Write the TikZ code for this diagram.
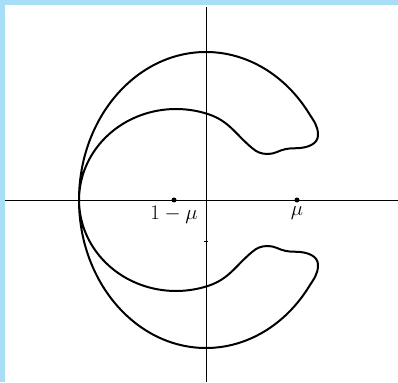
\documentclass[tikz,border=0pt]{standalone}
\usepackage{amsmath,amssymb}
\usepackage{xcolor}
\usetikzlibrary{positioning}
\definecolor{frameblue}{RGB}{168,221,248}

\begin{document}
\begin{tikzpicture}[x=1pt, y=1pt, every node/.style={font=\fontsize{20}{24}\selectfont},
  axis/.style={line width=0.7pt},
  curve/.style={line width=2pt, line join=round},
  dot/.style={circle, fill, inner sep=0pt, minimum size=5pt}]
% frame and margins
\fill[frameblue] (-206,-182) rectangle (192,200);
\fill[white] (-201,-182) rectangle (192,195);
\useasboundingbox (-206,-182) rectangle (192,200);
% axes
\coordinate (O) at (0,0);
\coordinate (xl) at (-201,0);
\coordinate (xr) at (192,0);
\coordinate (yt) at (0,193);
\coordinate (yb) at (0,-182);
\draw[axis] (xl) -- (xr);
\draw[axis] (yt) -- (yb);
\coordinate (tk) at (0,-41);
\draw[axis] ([xshift=-2pt]tk) -- ([xshift=2pt]tk);
% the two masses
\node[dot] (m1) at (-32,0) {};
\node[dot] (m2) at (91,0) {};
\node[below=0pt of m1] (l1) {$1-\mu$};
\node[below=0pt of m2] (l2) {$\mu$};
% zero velocity curve, upper half and its mirror image
\coordinate (L) at (-127,0);
\foreach \s in {1,-1}{
  \begin{scope}[yscale=\s]
    \draw[curve] (L) arc[start angle=180, end angle=36, x radius=127, y radius=148]
      to[out=-58, in=90] (112,65)
      to[out=-90, in=5] (94,52)
      to[out=185, in=10] (80,51)
      to[out=190, in=0] (62,46)
      to[out=180, in=-40] (46,52)
      to[out=140, in=-19] (3.2,85.5)
      arc[start angle=70, end angle=180, x radius=97, y radius=91];
  \end{scope}
}
\end{tikzpicture}
\end{document}
